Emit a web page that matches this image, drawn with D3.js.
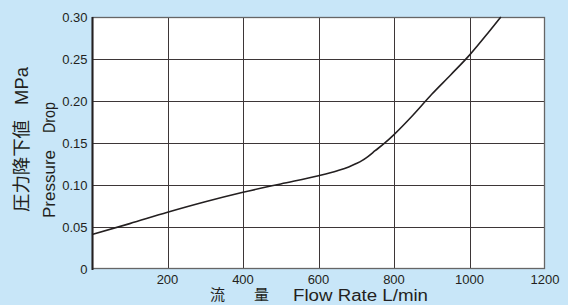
<!DOCTYPE html>
<html>
<head>
<meta charset="utf-8">
<script src="https://cdn.jsdelivr.net/npm/d3@7"></script>
<style>
html,body{margin:0;padding:0;background:#c8e6f8;}
svg{display:block;}
</style>
</head>
<body>
<svg id="chart" width="568" height="305"></svg>
<script>
const flowRate = [0, 100, 200, 300, 400, 500, 600, 650, 680, 700, 715, 730, 750, 775, 800, 850, 900, 950, 1000, 1050, 1083];
const pressureDrop = [0.041, 0.054, 0.0675, 0.080, 0.0913, 0.1013, 0.111, 0.1170, 0.1215, 0.1255, 0.1290, 0.1336, 0.1408, 0.1498, 0.160, 0.183, 0.208, 0.231, 0.2546, 0.2815, 0.300];
const xTicks = [200, 400, 600, 800, 1000, 1200];
const yTicks = [0, 0.05, 0.10, 0.15, 0.20, 0.25, 0.30];
const yTickLabels = ["0", "0.05", "0.10", "0.15", "0.20", "0.25", "0.30"];
const yTitleJa = "圧力降下値";
const yTitleUnit = "MPa";
const yTitleEn = ["Pressure", "Drop"];
const xTitleJa = ["流", "量"];
const xTitleEn = "Flow Rate L/min";

const svg = d3.select("#chart");
const L = 92, R = 545, T = 17, B = 269;
const x = d3.scaleLinear().domain([0, 1200]).range([L, R]);
const y = d3.scaleLinear().domain([0, 0.30]).range([B, T]);

svg.append("rect").attr("width", 568).attr("height", 305).attr("fill", "#c8e6f8");
svg.append("rect").attr("x", L).attr("y", T).attr("width", R - L).attr("height", B - T).attr("fill", "#ffffff");

const grid = svg.append("g").attr("stroke", "#3d3637").attr("stroke-width", 1).attr("shape-rendering", "crispEdges");
grid.selectAll("line.v").data(xTicks.slice(0, -1)).enter().append("line")
  .attr("x1", d => Math.round(x(d)) + 0.5).attr("x2", d => Math.round(x(d)) + 0.5)
  .attr("y1", T).attr("y2", B);
grid.selectAll("line.h").data(yTicks.slice(1, -1)).enter().append("line")
  .attr("x1", L).attr("x2", R)
  .attr("y1", d => Math.round(y(d)) + 0.5).attr("y2", d => Math.round(y(d)) + 0.5);

// frame
svg.append("rect").attr("x", L + 0.5).attr("y", T + 0.5).attr("width", R - L - 1).attr("height", B - T - 1)
  .attr("fill", "none").attr("stroke", "#666").attr("stroke-width", 1.3);
svg.append("line").attr("x1", L + 0.5).attr("x2", L + 0.5).attr("y1", T).attr("y2", B + 1)
  .attr("stroke", "#231f20").attr("stroke-width", 2);

// curve
const line = d3.line().x((d, i) => x(flowRate[i])).y(d => y(d)).curve(d3.curveMonotoneX);
svg.append("path").datum(pressureDrop).attr("d", line)
  .attr("fill", "none").attr("stroke", "#231f20").attr("stroke-width", 1.6);

// y tick labels
const font = "'Liberation Sans', Arial, Helvetica, sans-serif";
svg.append("g").selectAll("text").data(yTicks).enter().append("text")
  .attr("x", 87.5).attr("y", d => y(d)).attr("dy", "0.35em")
  .attr("text-anchor", "end").attr("font-family", font).attr("font-size", 13)
  .attr("fill", "#231f20").text((d, i) => yTickLabels[i]);

// x tick labels
svg.append("g").selectAll("text").data(xTicks).enter().append("text")
  .attr("x", d => x(d)).attr("y", 284)
  .attr("text-anchor", "middle").attr("font-family", font).attr("font-size", 13)
  .attr("fill", "#231f20").text(d => d);

// y title
const cjk = "'Noto Sans CJK JP', 'Noto Sans CJK SC', sans-serif";
const yt1 = svg.append("text").attr("transform", "translate(28,212) rotate(-90)")
  .attr("font-size", 18).attr("fill", "#231f20");
yt1.append("tspan").attr("font-family", cjk).attr("textLength", 92).attr("lengthAdjust", "spacingAndGlyphs").text(yTitleJa);
svg.append("text").attr("transform", "translate(28,105) rotate(-90)")
  .attr("font-family", font).attr("font-size", 18).attr("fill", "#231f20")
  .attr("textLength", 38).attr("lengthAdjust", "spacingAndGlyphs").text(yTitleUnit);
svg.append("text").attr("transform", "translate(54.5,218) rotate(-90)")
  .attr("font-family", font).attr("font-size", 16).attr("fill", "#231f20")
  .attr("textLength", 68).attr("lengthAdjust", "spacingAndGlyphs").text(yTitleEn[0]);
svg.append("text").attr("transform", "translate(54.5,133) rotate(-90)")
  .attr("font-family", font).attr("font-size", 16).attr("fill", "#231f20")
  .attr("textLength", 31).attr("lengthAdjust", "spacingAndGlyphs").text(yTitleEn[1]);

// x title
svg.append("text").attr("x", 210).attr("y", 300).attr("font-family", cjk).attr("font-size", 15)
  .attr("fill", "#231f20").text(xTitleJa[0]);
svg.append("text").attr("x", 254).attr("y", 300).attr("font-family", cjk).attr("font-size", 15)
  .attr("fill", "#231f20").text(xTitleJa[1]);
svg.append("text").attr("x", 293).attr("y", 301).attr("font-family", font).attr("font-size", 16)
  .attr("fill", "#231f20").attr("textLength", 135).attr("lengthAdjust", "spacingAndGlyphs").text(xTitleEn);
</script>
</body>
</html>
